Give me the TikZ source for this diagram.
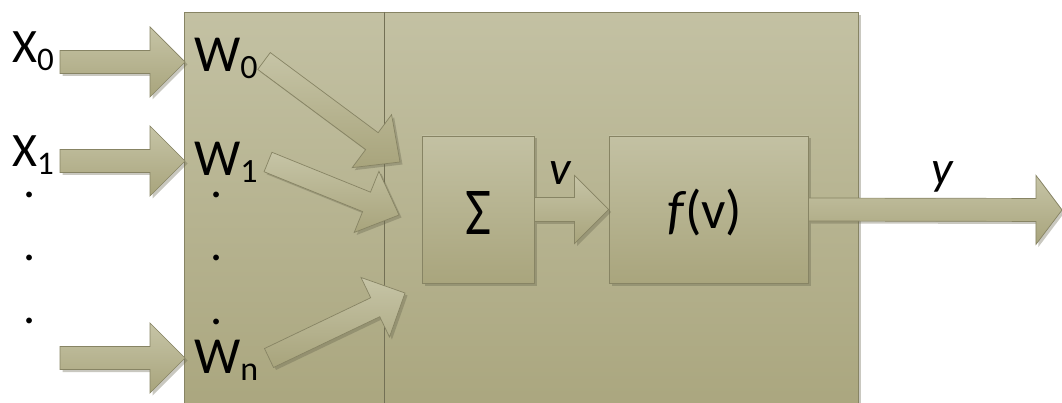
\documentclass[tikz,border=0pt]{standalone}
\usepackage{fontspec}
\setmainfont{Carlito}
\usepackage{graphicx}
\usetikzlibrary{calc,shadows}
\definecolor{boxtop}{RGB}{195,193,163}
\definecolor{boxbot}{RGB}{169,165,125}
\definecolor{edgec}{RGB}{135,132,100}
\definecolor{arrtop}{RGB}{198,196,166}
\definecolor{arrbot}{RGB}{168,164,124}
\definecolor{shadec}{RGB}{100,98,75}
\tikzset{
  softshadow/.style={drop shadow={shadow xshift=2.5pt,shadow yshift=-2.5pt,opacity=.35,fill=shadec}},
  panel/.style={draw=edgec, line width=0.9pt, top color=boxtop, bottom color=boxbot, softshadow},
  blockbox/.style={panel, rectangle, inner sep=0pt},
  blockarrow/.style={draw=edgec, line width=0.7pt, top color=arrtop, bottom color=arrbot, line join=miter, softshadow},
  divider/.style={draw=edgec!85!black, line width=0.8pt},
  lbl/.style={inner sep=0pt, font=\fontsize{48}{56}\selectfont},
  wlbl/.style={inner sep=0pt, font=\fontsize{52}{60}\selectfont},
  dotlbl/.style={inner sep=0pt, anchor=base, font=\fontsize{48}{56}\selectfont},
}
\newcommand\xsub[1]{\raisebox{-8pt}{\fontsize{33}{40}\selectfont #1}}
\newcommand\wsub[1]{\raisebox{-7pt}{\fontsize{34}{42}\selectfont #1}}
% block arrow: from, to, shaft half width, head half width, head length
\newcommand\blockarr[5]{%
  \coordinate (hb) at ($(#2)!#5!(#1)$);
  \path[blockarrow] ($(#1)!#3!90:(#2)$) -- ($(hb)!#3!90:(#2)$) -- ($(hb)!#4!90:(#2)$)
    -- (#2) -- ($(hb)!#4!-90:(#2)$) -- ($(hb)!#3!-90:(#2)$) -- ($(#1)!#3!-90:(#2)$) -- cycle;}
\begin{document}
\begin{tikzpicture}[x=1pt,y=-1pt]
\useasboundingbox (0,0) rectangle (1062,403);
% main frame
\node[blockbox, anchor=north west, minimum width=674pt, minimum height=415pt] (frame) at (184,12) {};
\coordinate (divtop) at (384,12);
\coordinate (divbot) at (384,427);
\draw[divider] (divtop) -- (divbot);
% input arrows
\coordinate (x0t) at (60,62);  \coordinate (x0h) at (185,62);
\coordinate (x1t) at (60,161); \coordinate (x1h) at (185,161);
\coordinate (xnt) at (60,358); \coordinate (xnh) at (185,358);
\blockarr{x0t}{x0h}{11.5pt}{35pt}{35pt}
\blockarr{x1t}{x1h}{11.5pt}{35pt}{35pt}
\blockarr{xnt}{xnh}{11.5pt}{35pt}{35pt}
% weighted arrows
\coordinate (w0t) at (264,61);  \coordinate (w0h) at (400,162);
\coordinate (w1t) at (268,162); \coordinate (w1h) at (399,215);
\coordinate (wnt) at (269,358); \coordinate (wnh) at (405,293);
\blockarr{w0t}{w0h}{10.5pt}{33pt}{35pt}
\blockarr{w1t}{w1h}{10.5pt}{33pt}{35pt}
\blockarr{wnt}{wnh}{10.5pt}{33pt}{33pt}
% blocks
\node[blockbox, minimum width=112pt, minimum height=147pt] (sum) at (478,209.5) {};
\node[blockbox, minimum width=199pt, minimum height=147pt] (fv) at (708.5,209.5) {};
\blockarr{sum.east}{fv.west}{12pt}{34pt}{34pt}
\coordinate (yout) at (1062,210);
\blockarr{fv.east}{yout}{11.5pt}{34.5pt}{26pt}
% labels
\node[lbl, anchor=base] (sumlbl) at (478,235) {\resizebox{26pt}{43pt}{Σ}};
\node[lbl, font=\fontsize{54}{62}\selectfont] (fvlbl) at (705,212) {\textit{f}\kern-2pt(v)};
\node[lbl, anchor=base west] (vlbl) at (549,185) {\textit{v}};
\node[lbl, anchor=base west] (ylbl) at (931,185) {\textit{y}};
\node[lbl, anchor=base west] (X0) at (12,63) {X\xsub{0}};
\node[lbl, anchor=base west] (X1) at (12,167) {X\xsub{1}};
\node[wlbl, anchor=base west] (W0) at (194,72) {W\wsub{0}};
\node[wlbl, anchor=base west] (W1) at (194,176) {W\wsub{1}};
\node[wlbl, anchor=base west] (Wn) at (194,373) {W\wsub{n}};
\node[dotlbl] (xd1) at (30,198) {\smash{.}};
\node[dotlbl] (xd2) at (30,261) {\smash{.}};
\node[dotlbl] (xd3) at (30,323) {\smash{.}};
\node[dotlbl] (wd1) at (217,198) {\smash{.}};
\node[dotlbl] (wd2) at (217,261) {\smash{.}};
\node[dotlbl] (wd3) at (217,324) {\smash{.}};
\end{tikzpicture}
\end{document}
